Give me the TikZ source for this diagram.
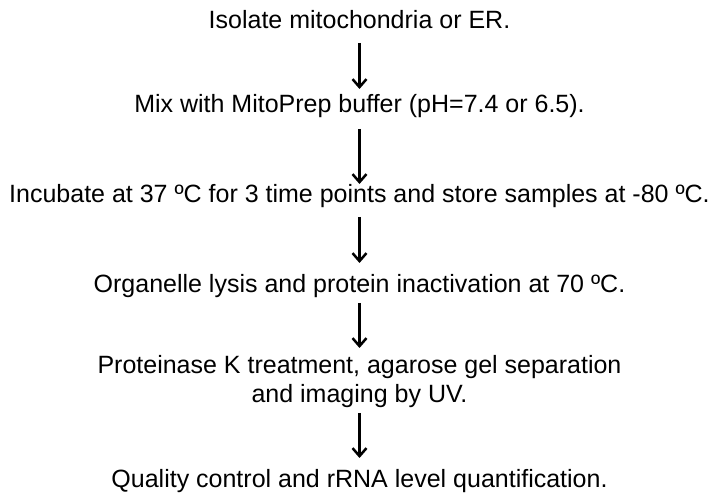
\documentclass[tikz,border=0pt]{standalone}
\usepackage{fontspec}
\setmainfont{Liberation Sans}
\usetikzlibrary{arrows.meta}
\begin{document}
\begin{tikzpicture}[x=1bp,y=1bp,
  steptext/.style={inner sep=0pt, anchor=base, font=\fontsize{25bp}{29bp}\selectfont},
  arr/.style={line width=2.5bp, -{Straight Barb[length=8bp,width=14bp,line width=2.5bp]}}]
\fill[white] (0,0) rectangle (718,500);
\useasboundingbox (0,0) rectangle (718,500);
\node[steptext] (n1) at (359.5,471) {Isolate mitochondria or ER.};
\node[steptext] (n2) at (359.5,387) {Mix with MitoPrep buffer (pH=7.4 or 6.5).};
\node[steptext] (n3) at (359.5,297) {Incubate at 37 ºC for 3 time points and store samples at -80 ºC.};
\node[steptext] (n4) at (359.5,207) {Organelle lysis and protein inactivation at 70 ºC.};
\node[steptext] (n5) at (359.5,126) {\begin{tabular}[t]{@{}c@{}}Proteinase K treatment, agarose gel separation\\ and imaging by UV.\end{tabular}};
\node[steptext] (n6) at (359.5,12) {Quality control and rRNA level quantification.};
\draw[arr] ([yshift=-14bp]n1.base) -- ([yshift=24bp]n2.base);
\draw[arr] ([yshift=-16bp]n2.base) -- ([yshift=19bp]n3.base);
\draw[arr] ([yshift=-14bp]n3.base) -- ([yshift=30bp]n4.base);
\draw[arr] ([yshift=-10bp]n4.base) -- ([yshift=26bp]n5.base);
\draw[arr] ([yshift=-39bp]n5.base) -- ([yshift=30bp]n6.base);
\end{tikzpicture}
\end{document}
